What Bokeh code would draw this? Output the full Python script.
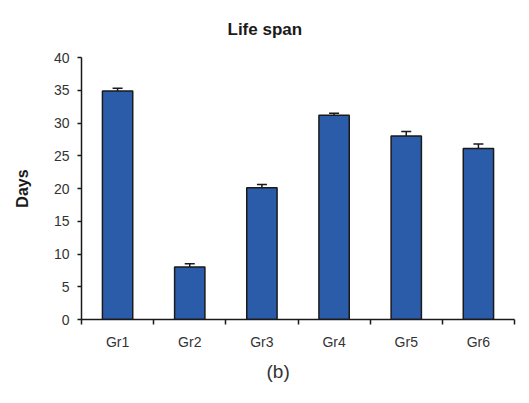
from bokeh.plotting import figure
from bokeh.models import ColumnDataSource, Whisker, TeeHead, FixedTicker, Range1d, Title
from bokeh.embed import file_html
from bokeh.resources import INLINE

groups = ["Gr1", "Gr2", "Gr3", "Gr4", "Gr5", "Gr6"]
days = [34.9, 8.0, 20.1, 31.2, 28.0, 26.1]
errors = [0.4, 0.5, 0.5, 0.3, 0.7, 0.7]
y_ticks = [0, 5, 10, 15, 20, 25, 30, 35, 40]

xpos = [i + 0.5 for i in range(len(groups))]
src = ColumnDataSource(dict(
    x=xpos, top=days,
    upper=[d + e for d, e in zip(days, errors)],
))

FONT = "Liberation Sans"
INK = "#1a1a1a"

p = figure(width=529, height=403, output_backend="svg", toolbar_location=None,
           x_range=Range1d(0, len(groups)), y_range=Range1d(0, 40),
           min_border_left=81, min_border_right=15, min_border_top=57, min_border_bottom=84)
p.outline_line_color = None
p.grid.grid_line_color = None
p.background_fill_color = "white"
p.border_fill_color = "white"

p.title.text = "Life span"
p.title.align = "left"
p.title.vertical_align = "top"
p.title.offset = 146
p.title.standoff = 34
p.title.text_font = FONT
p.title.text_font_style = "bold"
p.title.text_font_size = "17px"
p.title.text_color = INK

p.vbar(x="x", top="top", width=0.42, bottom=0, source=src,
       fill_color="#2a5caa", line_color=INK, line_width=1.5)

w = Whisker(base="x", lower="top", upper="upper", source=src,
            line_color=INK, line_width=1.5,
            upper_head=TeeHead(size=10, line_color=INK, line_width=1.5),
            lower_head=None)
p.add_layout(w)

# x axis: labels at bar centres, tick marks between groups
p.xaxis.ticker = FixedTicker(ticks=xpos, minor_ticks=list(range(len(groups) + 1)))
p.xaxis.major_label_overrides = {x: g for x, g in zip(xpos, groups)}
p.xaxis.major_tick_line_color = None
p.xaxis.major_tick_out = 5
p.xaxis.minor_tick_out = 5
p.xaxis.minor_tick_in = 0
p.xaxis.minor_tick_line_color = INK
p.xaxis.minor_tick_line_width = 1.5
p.xaxis.major_label_standoff = 9
p.xaxis.major_label_text_font = FONT
p.xaxis.major_label_text_font_size = "14px"
p.xaxis.major_label_text_color = "#333333"
p.xaxis.axis_line_color = INK
p.xaxis.axis_line_width = 1.5

p.yaxis.ticker = FixedTicker(ticks=y_ticks)
p.yaxis.major_tick_out = 4
p.yaxis.major_tick_in = 0
p.yaxis.minor_tick_line_color = None
p.yaxis.major_tick_line_color = INK
p.yaxis.major_tick_line_width = 1.5
p.yaxis.major_label_standoff = 8
p.yaxis.major_label_text_font = FONT
p.yaxis.major_label_text_font_size = "14px"
p.yaxis.major_label_text_color = "#333333"
p.yaxis.axis_line_color = INK
p.yaxis.axis_line_width = 1.5
p.yaxis.axis_label = "Days"
p.yaxis.axis_label_standoff = 20
p.yaxis.axis_label_text_font = FONT
p.yaxis.axis_label_text_font_style = "bold"
p.yaxis.axis_label_text_font_size = "16px"
p.yaxis.axis_label_text_color = INK

p.add_layout(Title(text="(b)", align="left", offset=185, standoff=12,
                   text_font=FONT, text_font_style="normal", text_font_size="19px",
                   text_color="#333333"), "below")

open("out.html", "w").write(file_html(p, INLINE))
